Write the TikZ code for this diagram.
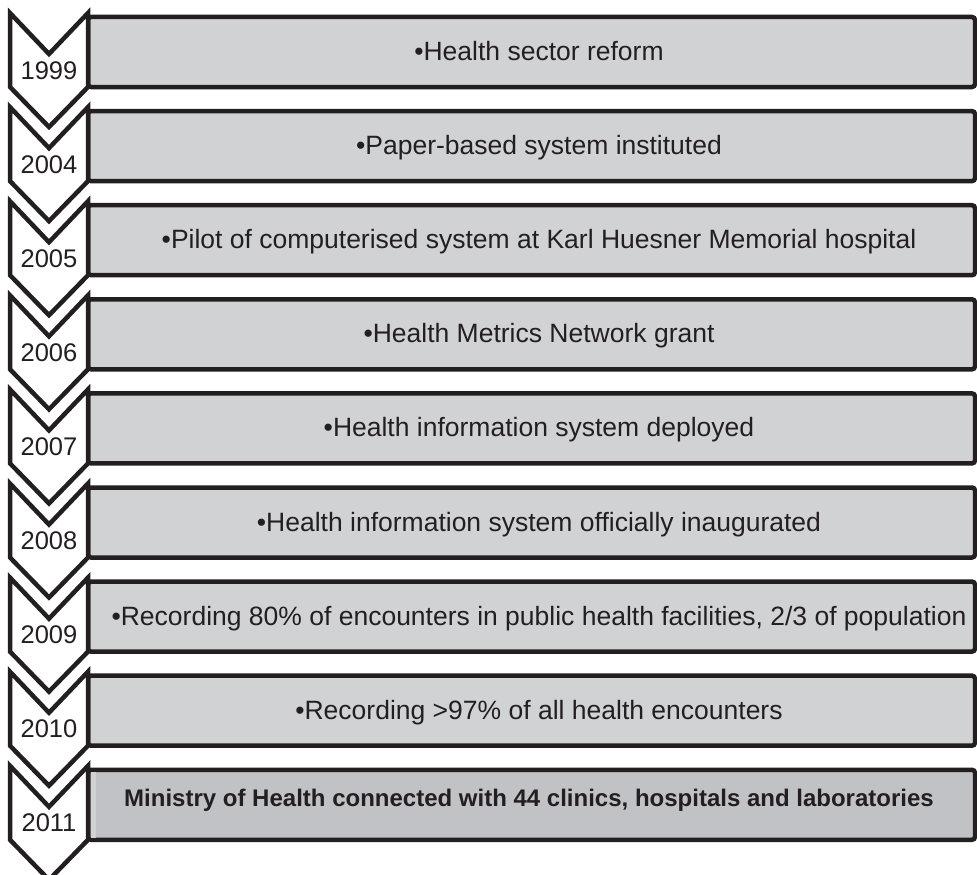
\documentclass[tikz,border=0pt]{standalone}
\usepackage{fontspec}
\setmainfont{Liberation Sans}
\usetikzlibrary{positioning}
\definecolor{edgegray}{HTML}{231F20}
\definecolor{boxgray}{HTML}{D1D2D4}
\definecolor{lastgray}{HTML}{C1C2C5}

\begin{document}
\begin{tikzpicture}[x=1pt, y=-1pt,
    chevron/.style={fill=white, draw=edgegray, line width=4.5pt, line join=miter},
    eventbox/.style={fill=boxgray, draw=edgegray, line width=4.5pt, rounded corners=3pt},
    yearlabel/.style={font=\fontsize{25.5}{28}\selectfont, text=edgegray, anchor=base, inner sep=0pt},
    eventlabel/.style={font=\fontsize{26.5}{30}\selectfont, text=edgegray, anchor=base, inner sep=0pt},
    lastlabel/.style={font=\fontsize{24}{27}\selectfont\bfseries, text=edgegray, anchor=base, inner sep=0pt}
  ]
  \useasboundingbox (0,0) rectangle (977,875);
  % one row per year: event box first, chevron on top
  \foreach \i/\yr/\txt in {1/1999/{Health sector reform},
      2/2004/{Paper-based system instituted},
      3/2005/{Pilot of computerised system at Karl Huesner Memorial hospital},
      4/2006/{Health Metrics Network grant},
      5/2007/{Health information system deployed},
      6/2008/{Health information system officially inaugurated},
      7/2009/{Recording 80\% of encounters in public health facilities, 2/3 of population},
      8/2010/{Recording >97\% of all health encounters}} {
    \pgfmathsetmacro{\rowtop}{17+(\i-1)*94.1}
    \draw[eventbox] (88,\rowtop) rectangle (975,{\rowtop+70});
    \node[eventlabel] (ev\i) at (539,{\rowtop+43.5}) {•\txt};
    \draw[chevron] (10,{\rowtop-4}) -- (49,{\rowtop+37}) -- (88,{\rowtop-4})
      -- (88,{\rowtop+70}) -- (49,{\rowtop+110}) -- (10,{\rowtop+70}) -- cycle;
    \node[yearlabel] (yr\i) at (49,{\rowtop+62}) {\yr};
  }
  % last year, bold and darker
  \pgfmathsetmacro{\rowtop}{17+8*94.1}
  \draw[eventbox, fill=lastgray] (88,\rowtop) rectangle (975,{\rowtop+70});
  \fill[boxgray] (90.5,{\rowtop+2.3}) rectangle (95.5,{\rowtop+67.7});
  \node[lastlabel] (ev9) at (529,{\rowtop+37}) {Ministry of Health connected with 44 clinics, hospitals and laboratories};
  \draw[chevron] (10,{\rowtop-4}) -- (49,{\rowtop+37}) -- (88,{\rowtop-4})
    -- (88,{\rowtop+70}) -- (49,{\rowtop+110}) -- (10,{\rowtop+70}) -- cycle;
  \node[yearlabel] (yr9) at (49,{\rowtop+62}) {2011};
\end{tikzpicture}
\end{document}
